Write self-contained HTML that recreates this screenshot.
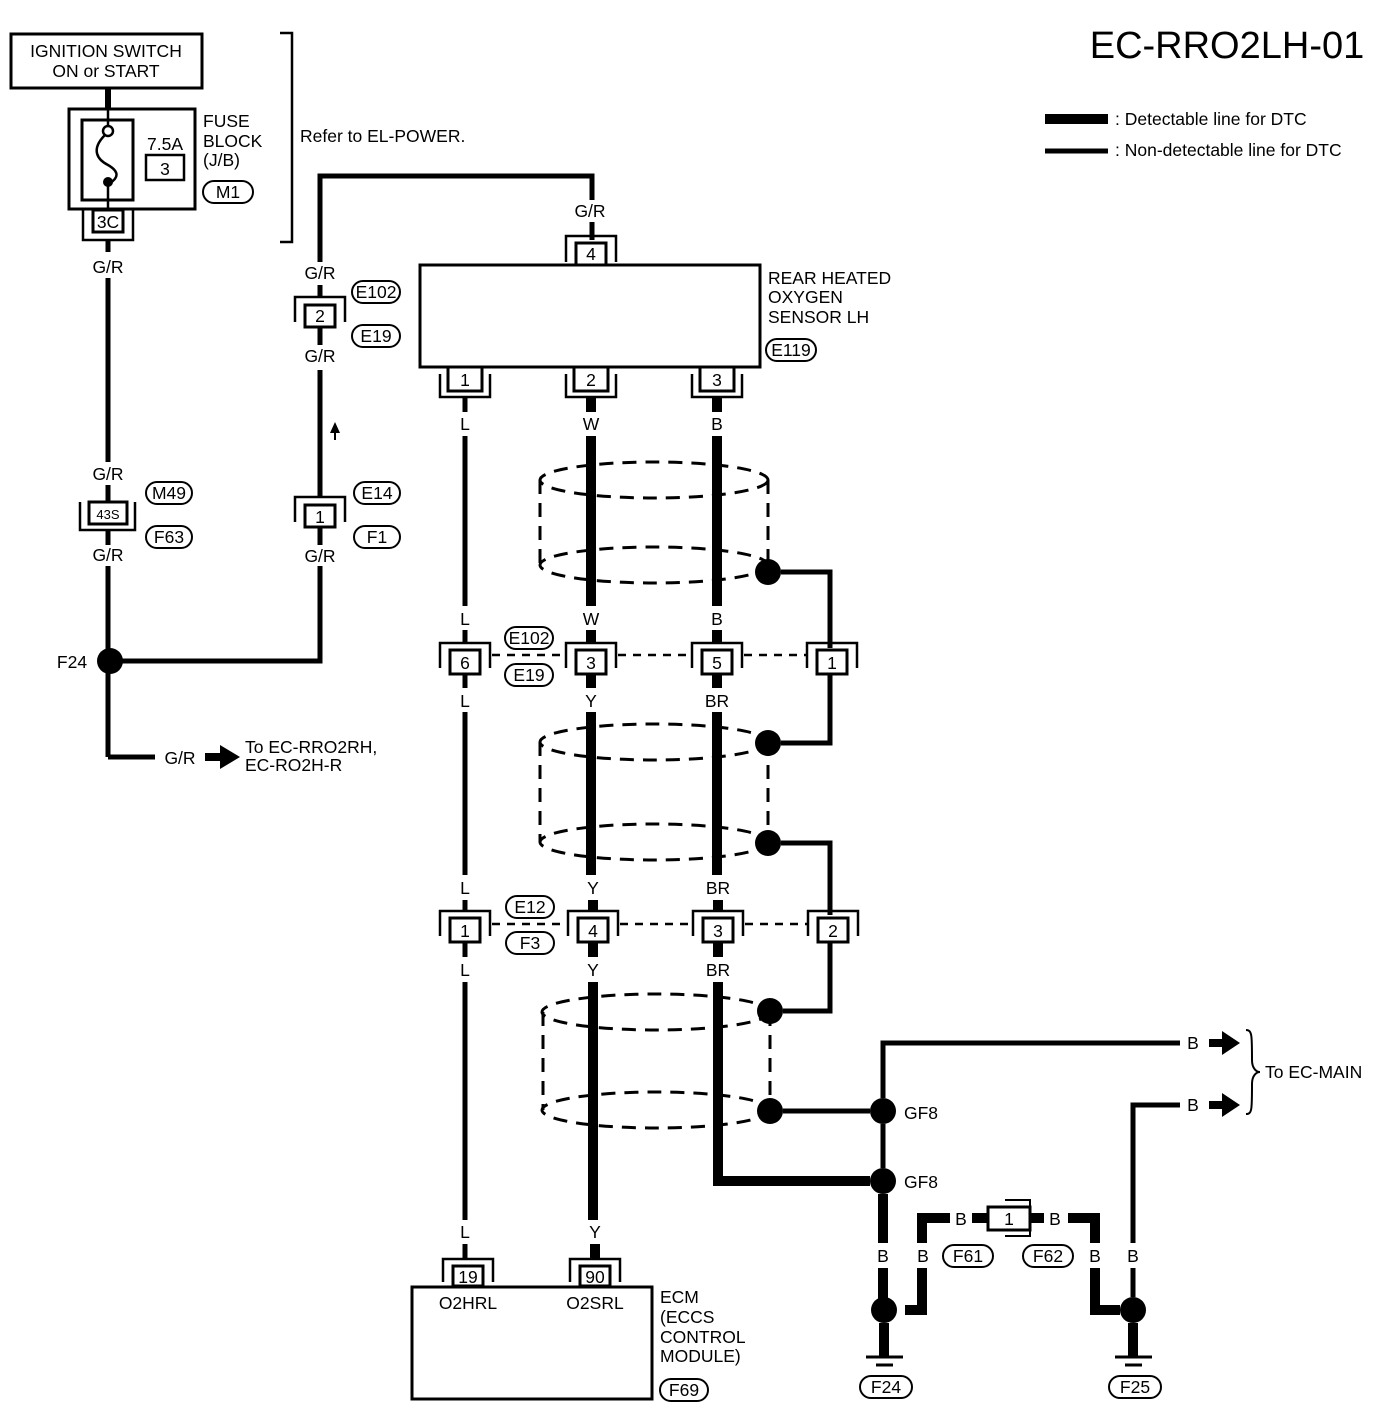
<!DOCTYPE html>
<html><head><meta charset="utf-8"><style>
html,body{margin:0;padding:0;background:#fff}
svg{display:block}
text{font-family:"Liberation Sans",Arial,sans-serif;font-size:17.5px;fill:#000}
.c{text-anchor:middle}
</style></head><body>
<svg width="1392" height="1408" viewBox="0 0 1392 1408" xmlns="http://www.w3.org/2000/svg">
<g fill="none" stroke="#000">
<line x1="1045" y1="119" x2="1108" y2="119" stroke-width="10"/>
<line x1="1045" y1="151" x2="1108" y2="151" stroke-width="5"/>
<rect x="11" y="34" width="191" height="54" stroke-width="3"/>
<line x1="108" y1="88" x2="108" y2="110" stroke-width="6"/>
<rect x="69" y="109" width="126" height="100" stroke-width="3"/>
<rect x="82" y="120" width="51" height="80" stroke-width="3"/>
<circle cx="108" cy="131" r="5" stroke-width="2.5"/>
<path d="M105,135 C90,150 98,160 108,165 C120,172 118,178 110,183" stroke-width="2.5"/>
<circle cx="108" cy="182" r="5" fill="#000" stroke="none"/>
<line x1="108" y1="110" x2="108" y2="126" stroke-width="2.5"/>
<line x1="108" y1="182" x2="108" y2="209" stroke-width="2.5"/>
<rect x="146" y="155" width="38" height="25" stroke-width="2.5"/>
<rect x="203" y="181" width="50" height="22" rx="11" stroke-width="2"/>
<rect x="93" y="210" width="30" height="22" stroke-width="3"/>
<path d="M83,210 V240 H133 V210" stroke-width="2.5"/>
<line x1="108" y1="240" x2="108" y2="252" stroke-width="5"/>
<line x1="108" y1="278" x2="108" y2="462" stroke-width="5"/>
<path d="M280,33 H292 V242 H280" stroke-width="2.5"/>
<line x1="108" y1="485" x2="108" y2="502" stroke-width="5"/>
<rect x="89" y="502" width="38" height="22" stroke-width="3"/>
<path d="M80,502 V530 H135 V502" stroke-width="2.5"/>
<rect x="146" y="482" width="46" height="22" rx="11" stroke-width="2"/>
<rect x="146" y="526" width="46" height="22" rx="11" stroke-width="2"/>
<line x1="108" y1="530" x2="108" y2="545" stroke-width="5"/>
<line x1="108" y1="566" x2="108" y2="757" stroke-width="5"/>
<path d="M108,757 H155" stroke-width="5"/>
<path d="M205,757 H222" stroke-width="8"/>
<polygon points="220,745 240,757 220,769" fill="#000" stroke="none"/>
<circle cx="110" cy="661" r="13" fill="#000" stroke="none"/>
<path d="M110,661 H320 V566" stroke-width="5"/>
<line x1="320" y1="545" x2="320" y2="528" stroke-width="5"/>
<rect x="305" y="505" width="30" height="22" stroke-width="3"/>
<path d="M295,522 V497 H345 V522" stroke-width="2.5"/>
<rect x="354" y="482" width="46" height="22" rx="11" stroke-width="2"/>
<rect x="354" y="526" width="46" height="22" rx="11" stroke-width="2"/>
<line x1="320" y1="497" x2="320" y2="370" stroke-width="5"/>
<line x1="335" y1="440" x2="335" y2="432" stroke-width="2"/>
<polygon points="330,433 335,422 340,433" fill="#000" stroke="none"/>
<line x1="320" y1="345" x2="320" y2="328" stroke-width="5"/>
<rect x="305" y="305" width="30" height="22" stroke-width="3"/>
<path d="M295,322 V297 H345 V322" stroke-width="2.5"/>
<line x1="320" y1="297" x2="320" y2="285" stroke-width="5"/>
<rect x="352" y="281" width="48" height="22" rx="11" stroke-width="2"/>
<rect x="352" y="325" width="48" height="22" rx="11" stroke-width="2"/>
<path d="M320,262 V176 H592 V200" stroke-width="5"/>
<line x1="592" y1="222" x2="592" y2="240" stroke-width="5"/>
<rect x="420" y="265" width="340" height="102" stroke-width="3"/>
<rect x="576" y="243" width="30" height="22" stroke-width="3"/>
<path d="M566,262 V236 H616 V262" stroke-width="2.5"/>
<rect x="766" y="339" width="50" height="22" rx="11" stroke-width="2"/>
<g stroke-width="3">
<rect x="448" y="367" width="34" height="24"/><rect x="574" y="367" width="34" height="24"/><rect x="700" y="367" width="34" height="24"/>
</g>
<g stroke-width="2.5">
<path d="M440,374 V397 H490 V374"/><path d="M566,374 V397 H616 V374"/><path d="M692,374 V397 H742 V374"/>
</g>
<line x1="465" y1="397" x2="465" y2="412" stroke-width="5"/>
<line x1="591" y1="397" x2="591" y2="412" stroke-width="10"/>
<line x1="717" y1="397" x2="717" y2="412" stroke-width="10"/>
<line x1="465" y1="436" x2="465" y2="606" stroke-width="5"/>
<line x1="591" y1="436" x2="591" y2="606" stroke-width="10"/>
<line x1="717" y1="436" x2="717" y2="606" stroke-width="10"/>
<g stroke-width="3" stroke-dasharray="14,9">
<ellipse cx="654" cy="480" rx="114" ry="18"/><ellipse cx="654" cy="565" rx="114" ry="18"/>
<line x1="540" y1="480" x2="540" y2="565"/><line x1="768" y1="480" x2="768" y2="565"/>
<ellipse cx="654" cy="742" rx="114" ry="18"/><ellipse cx="654" cy="842" rx="114" ry="18"/>
<line x1="540" y1="742" x2="540" y2="842"/><line x1="768" y1="742" x2="768" y2="842"/>
<ellipse cx="656" cy="1012" rx="114" ry="18"/><ellipse cx="656" cy="1110" rx="114" ry="18"/>
<line x1="543" y1="1012" x2="543" y2="1110"/><line x1="770" y1="1012" x2="770" y2="1110"/>
</g>
<g fill="#000" stroke="none">
<circle cx="768" cy="572" r="13"/><circle cx="768" cy="743" r="13"/><circle cx="768" cy="843" r="13"/>
<circle cx="770" cy="1011" r="13"/><circle cx="770" cy="1111" r="13"/>
<circle cx="883" cy="1111" r="13"/><circle cx="883" cy="1181" r="13"/>
<circle cx="884" cy="1310" r="13"/><circle cx="1133" cy="1310" r="13"/>
</g>
<path d="M781,572 H830 V648" stroke-width="5"/>
<path d="M781,743 H830 V675" stroke-width="5"/>
<path d="M781,843 H830 V915" stroke-width="5"/>
<path d="M783,1011 H830 V943" stroke-width="5"/>
<path d="M783,1111 H870" stroke-width="5"/>
<g stroke-width="3"><rect x="450" y="650" width="30" height="24"/><rect x="576" y="650" width="30" height="24"/><rect x="702" y="650" width="30" height="24"/><rect x="817" y="650" width="30" height="24"/>
<rect x="450" y="918" width="30" height="24"/><rect x="578" y="918" width="30" height="24"/><rect x="703" y="918" width="30" height="24"/><rect x="818" y="918" width="30" height="24"/>
<rect x="453" y="1266" width="30" height="20"/><rect x="580" y="1266" width="30" height="20"/></g>
<g stroke-width="2.5"><path d="M440,668 V643 H490 V668"/><path d="M566,668 V643 H616 V668"/><path d="M692,668 V643 H742 V668"/><path d="M807,668 V643 H857 V668"/>
<path d="M440,936 V911 H490 V936"/><path d="M568,936 V911 H618 V936"/><path d="M693,936 V911 H743 V936"/><path d="M808,936 V911 H858 V936"/>
<path d="M443,1282 V1259 H493 V1282"/><path d="M570,1282 V1259 H620 V1282"/></g>
<g stroke-width="2.5" stroke-dasharray="8,7"><line x1="492" y1="655" x2="566" y2="655"/><line x1="618" y1="655" x2="692" y2="655"/><line x1="744" y1="655" x2="807" y2="655"/>
<line x1="492" y1="924" x2="568" y2="924"/><line x1="620" y1="924" x2="693" y2="924"/><line x1="745" y1="924" x2="808" y2="924"/></g>
<g stroke-width="2"><rect x="505" y="627" width="48" height="22" rx="11"/><rect x="505" y="664" width="48" height="22" rx="11"/>
<rect x="506" y="896" width="48" height="22" rx="11"/><rect x="506" y="932" width="48" height="22" rx="11"/></g>
<line x1="465" y1="630" x2="465" y2="643" stroke-width="5"/><line x1="591" y1="630" x2="591" y2="643" stroke-width="10"/><line x1="717" y1="630" x2="717" y2="643" stroke-width="10"/>
<line x1="465" y1="674" x2="465" y2="688" stroke-width="5"/><line x1="591" y1="674" x2="591" y2="688" stroke-width="10"/><line x1="717" y1="674" x2="717" y2="688" stroke-width="10"/>
<line x1="465" y1="712" x2="465" y2="875" stroke-width="5"/><line x1="591" y1="712" x2="591" y2="875" stroke-width="10"/><line x1="717" y1="712" x2="717" y2="875" stroke-width="10"/>
<line x1="465" y1="900" x2="465" y2="911" stroke-width="5"/><line x1="593" y1="900" x2="593" y2="911" stroke-width="10"/><line x1="718" y1="900" x2="718" y2="911" stroke-width="10"/>
<line x1="465" y1="942" x2="465" y2="957" stroke-width="5"/><line x1="593" y1="942" x2="593" y2="957" stroke-width="10"/><line x1="718" y1="942" x2="718" y2="957" stroke-width="10"/>
<line x1="465" y1="982" x2="465" y2="1220" stroke-width="5"/><line x1="593" y1="982" x2="593" y2="1220" stroke-width="10"/>
<path d="M718,982 V1181 H870" stroke-width="10"/>
<line x1="465" y1="1244" x2="465" y2="1259" stroke-width="5"/><line x1="595" y1="1244" x2="595" y2="1259" stroke-width="10"/>
<rect x="412" y="1287" width="240" height="112" stroke-width="3"/>
<rect x="660" y="1379" width="48" height="22" rx="11" stroke-width="2"/>
<path d="M883,1098 V1043 H1180" stroke-width="5"/>
<path d="M1209,1043 H1225" stroke-width="8"/><polygon points="1222,1031 1240,1043 1222,1055" fill="#000" stroke="none"/>
<path d="M1133,1243 V1105 H1180" stroke-width="5"/>
<path d="M1209,1105 H1225" stroke-width="8"/><polygon points="1222,1093 1240,1105 1222,1117" fill="#000" stroke="none"/>
<path d="M1246,1030 C1252,1030 1252,1035 1252,1060 C1252,1068 1256,1072 1260,1072 C1256,1072 1252,1076 1252,1084 C1252,1110 1252,1114 1246,1114" stroke-width="2"/>
<line x1="883" y1="1124" x2="883" y2="1168" stroke-width="5"/>
<line x1="883" y1="1194" x2="883" y2="1243" stroke-width="10"/>
<line x1="883" y1="1268" x2="883" y2="1300" stroke-width="10"/>
<path d="M905,1310 H922 V1268" stroke-width="10"/>
<path d="M922,1243 V1218 H950" stroke-width="10"/>
<line x1="972" y1="1218" x2="988" y2="1218" stroke-width="10"/>
<rect x="988" y="1207" width="42" height="23" stroke-width="3"/>
<path d="M1005,1200 H1030 V1236 H1005" stroke-width="2"/>
<line x1="1030" y1="1218" x2="1044" y2="1218" stroke-width="10"/>
<path d="M1068,1218 H1095 V1243" stroke-width="10"/>
<path d="M1095,1268 V1310 H1120" stroke-width="10"/>
<line x1="1133" y1="1268" x2="1133" y2="1297" stroke-width="5"/>
<line x1="884" y1="1323" x2="884" y2="1356" stroke-width="10"/>
<line x1="1133" y1="1323" x2="1133" y2="1356" stroke-width="10"/>
<g stroke-width="3"><line x1="866" y1="1357" x2="903" y2="1357"/><line x1="876" y1="1365" x2="893" y2="1365"/>
<line x1="1115" y1="1357" x2="1152" y2="1357"/><line x1="1125" y1="1365" x2="1142" y2="1365"/></g>
<g stroke-width="2"><rect x="860" y="1376" width="52" height="22" rx="11"/><rect x="1109" y="1376" width="52" height="22" rx="11"/>
<rect x="943" y="1245" width="50" height="22" rx="11"/><rect x="1023" y="1245" width="50" height="22" rx="11"/></g>
</g>
<text x="1227" y="58" class="c" style="font-size:38px">EC-RRO2LH-01</text>
<text x="1115" y="125">: Detectable line for DTC</text>
<text x="1115" y="156">: Non-detectable line for DTC</text>
<text x="106" y="57" class="c">IGNITION SWITCH</text>
<text x="106" y="77" class="c">ON or START</text>
<text x="165" y="150" class="c">7.5A</text>
<text x="165" y="175" class="c">3</text>
<text x="203" y="127">FUSE</text><text x="203" y="147">BLOCK</text><text x="203" y="166">(J/B)</text>
<text x="228" y="198" class="c">M1</text>
<text x="108" y="228" class="c">3C</text>
<text x="300" y="142">Refer to EL-POWER.</text>
<text x="108" y="273" class="c">G/R</text><text x="108" y="480" class="c">G/R</text><text x="108" y="561" class="c">G/R</text>
<text x="108" y="519" class="c" style="font-size:13px">43S</text>
<text x="169" y="499" class="c">M49</text><text x="169" y="543" class="c">F63</text>
<text x="72" y="668" class="c">F24</text>
<text x="180" y="764" class="c">G/R</text>
<text x="245" y="753">To EC-RRO2RH,</text><text x="245" y="771">EC-RO2H-R</text>
<text x="320" y="279" class="c">G/R</text><text x="320" y="362" class="c">G/R</text><text x="320" y="562" class="c">G/R</text>
<text x="320" y="322" class="c">2</text><text x="320" y="523" class="c">1</text>
<text x="376" y="298" class="c">E102</text><text x="376" y="342" class="c">E19</text>
<text x="377" y="499" class="c">E14</text><text x="377" y="543" class="c">F1</text>
<text x="590" y="217" class="c">G/R</text>
<text x="591" y="260" class="c">4</text>
<text x="768" y="284">REAR HEATED</text><text x="768" y="303">OXYGEN</text><text x="768" y="323">SENSOR LH</text>
<text x="791" y="356" class="c">E119</text>
<text x="465" y="386" class="c">1</text><text x="591" y="386" class="c">2</text><text x="717" y="386" class="c">3</text>
<text x="465" y="430" class="c">L</text><text x="591" y="430" class="c">W</text><text x="717" y="430" class="c">B</text>
<text x="465" y="625" class="c">L</text><text x="591" y="625" class="c">W</text><text x="717" y="625" class="c">B</text>
<text x="465" y="669" class="c">6</text><text x="591" y="669" class="c">3</text><text x="717" y="669" class="c">5</text><text x="832" y="669" class="c">1</text>
<text x="529" y="644" class="c">E102</text><text x="529" y="681" class="c">E19</text>
<text x="465" y="707" class="c">L</text><text x="591" y="707" class="c">Y</text><text x="717" y="707" class="c">BR</text>
<text x="465" y="894" class="c">L</text><text x="593" y="894" class="c">Y</text><text x="718" y="894" class="c">BR</text>
<text x="465" y="937" class="c">1</text><text x="593" y="937" class="c">4</text><text x="718" y="937" class="c">3</text><text x="833" y="937" class="c">2</text>
<text x="530" y="913" class="c">E12</text><text x="530" y="949" class="c">F3</text>
<text x="465" y="976" class="c">L</text><text x="593" y="976" class="c">Y</text><text x="718" y="976" class="c">BR</text>
<text x="465" y="1238" class="c">L</text><text x="595" y="1238" class="c">Y</text>
<text x="468" y="1283" class="c">19</text><text x="595" y="1283" class="c">90</text>
<text x="468" y="1309" class="c">O2HRL</text><text x="595" y="1309" class="c">O2SRL</text>
<text x="660" y="1303">ECM</text><text x="660" y="1323">(ECCS</text><text x="660" y="1343">CONTROL</text><text x="660" y="1362">MODULE)</text>
<text x="684" y="1396" class="c">F69</text>
<text x="1193" y="1049" class="c">B</text><text x="1193" y="1111" class="c">B</text>
<text x="1265" y="1078">To EC-MAIN</text>
<text x="904" y="1119">GF8</text><text x="904" y="1188">GF8</text>
<text x="961" y="1225" class="c">B</text><text x="1009" y="1225" class="c">1</text><text x="1055" y="1225" class="c">B</text>
<text x="883" y="1262" class="c">B</text><text x="923" y="1262" class="c">B</text><text x="1095" y="1262" class="c">B</text><text x="1133" y="1262" class="c">B</text>
<text x="968" y="1262" class="c">F61</text><text x="1048" y="1262" class="c">F62</text>
<text x="886" y="1393" class="c">F24</text><text x="1135" y="1393" class="c">F25</text>
</svg>
</body></html>
